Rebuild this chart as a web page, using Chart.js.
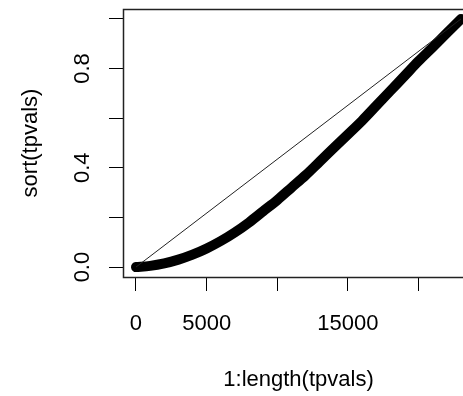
<!DOCTYPE html>
<html>
<head>
<meta charset="utf-8">
<script src="https://cdn.jsdelivr.net/npm/chart.js@4/dist/chart.umd.min.js"></script>
<style>
  html, body { margin: 0; padding: 0; background: #fff; overflow: hidden; }
  #wrap { width: 463px; height: 396px; overflow: hidden; }
</style>
</head>
<body>
<div id="wrap"><canvas id="c" width="490" height="396"></canvas></div>
<script>
const indexValues = [1, 1000, 2000, 3000, 4000, 5000, 6000, 7000, 8000, 9000, 10000, 11000,
  12000, 13000, 14000, 15000, 16000, 17000, 18000, 19000, 20000, 21000, 22000, 23000];
const sortedPValues = [0.0, 0.005, 0.015, 0.03, 0.05, 0.075, 0.105, 0.14, 0.18, 0.225, 0.27, 0.32,
  0.37, 0.425, 0.48, 0.535, 0.59, 0.65, 0.71, 0.77, 0.83, 0.886, 0.943, 1.0];

// reference diagonal
const diagX = [0, 23000];
const diagY = [0, 1];

// axis ticks
const xTickValues = [0, 5000, 10000, 15000, 20000];
const xTickLabels = ['0', '5000', '', '15000', ''];
const yTickValues = [0, 0.2, 0.4, 0.6, 0.8, 1.0];
const yTickLabels = ['0.0', '', '0.4', '', '0.8', ''];

const n = indexValues[indexValues.length - 1];
const xPad = (n - 1) * 0.04;

Chart.defaults.font.family = '"Liberation Sans", Arial, sans-serif';
Chart.defaults.font.size = 22;
Chart.defaults.color = '#000';

// R style box around plot region
const boxPlugin = {
  id: 'box',
  afterDraw(chart) {
    const a = chart.chartArea;
    const ctx = chart.ctx;
    ctx.save();
    ctx.strokeStyle = '#222';
    ctx.lineWidth = 1.5;
    ctx.strokeRect(Math.round(a.left) + 0.5, Math.round(a.top) + 0.5,
      Math.round(a.right - a.left), Math.round(a.bottom - a.top));
    ctx.restore();
  }
};

// no extra room for half labels, the plot region is fixed like in R
const noLabelPadding = (s) => {
  s.paddingTop = 0; s.paddingBottom = 0; s.paddingLeft = 0; s.paddingRight = 0;
};

new Chart(document.getElementById('c'), {
  type: 'line',
  data: {
    datasets: [
      {
        data: diagX.map((x, i) => ({ x, y: diagY[i] })),
        borderColor: '#222',
        borderWidth: 1,
        pointRadius: 0
      },
      {
        data: indexValues.map((x, i) => ({ x, y: sortedPValues[i] })),
        borderColor: '#000',
        borderWidth: 10,
        borderCapStyle: 'round',
        borderJoinStyle: 'round',
        cubicInterpolationMode: 'monotone',
        pointRadius: 0
      }
    ]
  },
  plugins: [boxPlugin],
  options: {
    responsive: false,
    animation: false,
    layout: { padding: { top: 9, right: 16, left: 0, bottom: 0 } },
    plugins: { legend: { display: false }, tooltip: { enabled: false } },
    scales: {
      x: {
        type: 'linear',
        min: 1 - xPad,
        max: n + xPad,
        afterBuildTicks: (s) => { s.ticks = xTickValues.map(v => ({ value: v })); },
        afterFit: (s) => { s.height = 119; noLabelPadding(s); },
        ticks: {
          autoSkip: false,
          maxRotation: 0,
          minRotation: 0,
          padding: 20,
          callback: (v, i) => xTickLabels[i]
        },
        grid: { drawOnChartArea: false, tickLength: 14, color: '#000', tickWidth: 1 },
        border: { display: true, color: '#222', width: 1 },
        title: {
          display: true,
          text: '1:length(tpvals)',
          padding: { top: 0, bottom: 3 }
        }
      },
      y: {
        type: 'linear',
        min: -0.04,
        max: 1.04,
        afterBuildTicks: (s) => { s.ticks = yTickValues.map(v => ({ value: v })); },
        afterFit: (s) => { s.width = 123; noLabelPadding(s); },
        ticks: {
          autoSkip: false,
          minRotation: 90,
          maxRotation: 90,
          crossAlign: 'center',
          padding: 11,
          callback: (v, i) => yTickLabels[i]
        },
        grid: { drawOnChartArea: false, tickLength: 14, color: '#000', tickWidth: 1 },
        border: { display: true, color: '#222', width: 1 },
        title: {
          display: true,
          text: 'sort(tpvals)',
          padding: { top: 18, bottom: 0 }
        }
      }
    }
  }
});
</script>
</body>
</html>
